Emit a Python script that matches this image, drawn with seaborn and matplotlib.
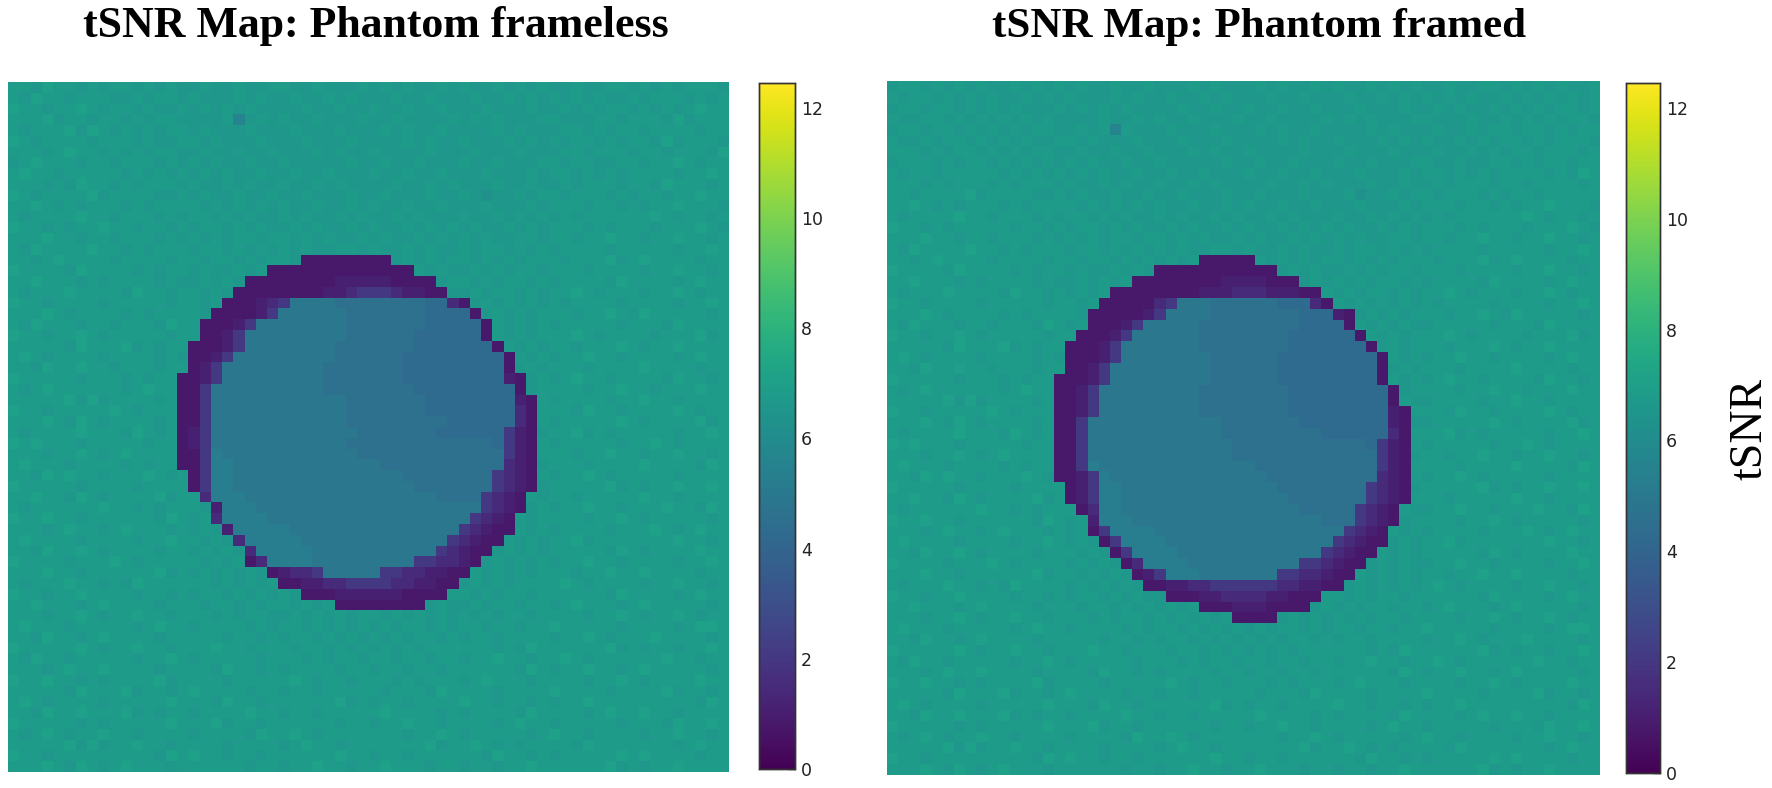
import numpy as np
import seaborn as sns
import matplotlib.pyplot as plt

titles = ['tSNR Map: Phantom frameless', 'tSNR Map: Phantom framed']
cbar_label = 'tSNR'
cbar_ticks = [0, 2, 4, 6, 8, 10, 12]
vmin, vmax = 0, 12.45

# tSNR, one letter or digit per cell
levels = {'a': 0.8, 'b': 1.1, 'c': 1.5, 'd': 2.0,
          'e': 4.3, 'f': 4.6, 'g': 4.95, 'h': 5.25,
          '5': 5.6, '6': 6.25, '7': 6.65, '8': 6.85, '9': 7.05}

frameless = [
    "88798878 78878787 78778778 87787778 78787787 87787878 77877887 87878887",
    "87988788 87787887 87778787 78778787 77877877 78778787 87878778 78887878",
    "98878898 78878778 78787877 77877877 87787787 77877787 78787887 87878988",
    "88897887 88787887 77785787 87787778 77877778 78787778 87778878 88797888",
    "87888979 87878788 78777877 78777877 78787787 77787877 78878788 78888788",
    "98788887 88878778 87877787 77877787 77787877 87778787 87887878 87978887",
    "88878988 78787887 78778778 77787877 87777877 78777877 78878887 88788879",
    "78988878 87888787 87877877 87777787 78778777 87787778 87887788 78898788",
    "89887888 88787878 78787787 78778777 87787787 77877787 88787878 88878898",
    "88878798 87878887 87787877 87787877 77877878 77787787 78788878 87988878",
    "98788889 78888778 78778778 77877787 78777877 87677878 87888787 88788988",
    "88987878 88787888 87878787 87787787 87787787 77877787 88878878 78898887",
    "87888898 87888787 88787877 87877878 77878777 87787878 78788888 89878878",
    "98878788 98878878 78878787 78787787 87787878 78778787 88878788 87888987",
    "88898878 87888787 87878878 87878778 78778787 87877887 88788988 78898878",
    "87988889 88787888 78878787 87877887 87787877 87887878 78888788 88878898",
    "88789888 87888878 87887878 87aaaaaa aa787878 87878788 87888978 98888788",
    "98888798 88878788 7877878a aaaaaaaa aaaa8787 78787887 88878888 78898878",
    "88988878 78888787 78787aaa aaaaabbb bbaaaa78 87878878 78888798 88878988",
    "87888988 88798878 8787aaaa aaaabbcd ddcbbaa7 78788787 88987888 78898788",
    "98878888 78888878 878aaabc dggggfff fffffeec a7878787 87888878 88878898",
    "88898788 88787888 87aaaabd ggggggff fffffeee ea787878 88788987 98888878",
    "87988878 87888798 8aaabdgg ggggggff fffffeee eea87878 78888878 88798888",
    "98878898 78888878 8aabdggg ggggggff ffffeeee eea87878 88987888 87888978",
    "88888798 88978788 aaabdggg gggggfff ffffeeee eeea8787 88788898 78898888",
    "89878888 78888787 aabdgggg gggggfff fffeeeee eeeea878 78898878 88878988",
    "88798898 87888788 abdggggg ggggffff fffeeeee eeeea787 88878888 98888788",
    "98888878 8878788a abdggggg ggggffff fffeeeee eeeeba78 78988788 88798878",
    "87898888 8878988a adgggggg ggggffff ffffeeee eeeeea78 88878898 87888988",
    "88888979 7888878a adgggggg ggggggff fffffeee eeeeeba8 78888788 98878888",
    "98878888 8987888a adgggggg ggggggff fffffeee eeeeeca8 88798878 88898788",
    "88898798 7888878a adgggggg ggggggff fffffffe eeeeeca8 78888898 78888978",
    "87888898 8879878a bdgggggg gggggggf ffffffee eeeedba7 88978788 88878898",
    "98988878 8888788a bdgggggg ggggggff ffffffff fffedba8 78888878 89878888",
    "88878898 7898888a adhggggg gggggggf ffffffff ffffdba8 88788988 78898878",
    "89888788 8878788a adhhgggg gggggggg gfffffff ffffcba7 88878888 98888798",
    "88798988 78889878 adhhgggg gggggggg gggfffff fffdcba8 78898788 88878888",
    "98888878 88878888 adhhgggg gggggggg ggggffff fffdcba7 88888978 78898898",
    "88988798 78888978 8chhhggg gggggggg ggggggff ffdcba87 88788888 98878888",
    "87888888 98878788 87bhhhgg gggggggg gggggggg ggdcba78 78898878 88988798",
    "98898878 88888798 78chhhhg gggggggg gggggggg gdcba878 88878898 78888878",
    "88878988 78988878 787bhhhh hggggggg gggggggg dcbaa878 78888788 89878988",
    "89888878 88878898 8787chhh hhgggggg gggggggd cbaa8787 88978888 88898878",
    "88798898 78888788 78787chh hhhggggg ggggggdc baa78787 88888798 78888988",
    "98888788 89878888 87878ach hhhggggg ggggddcc ba787878 78898878 88878898",
    "88898878 88888978 7878787a bccdgggg gddccbba a8787878 88788988 98888788",
    "87888988 78798888 88787878 aabbccdd ddccbbaa 78787888 89878888 78898878",
    "98878898 88878878 78878787 87aaabbb bbbaaaa8 87878878 88888798 88878988",
    "88988878 98888788 87887878 87878aaa aaaaa787 78788788 78988878 98888878",
    "88878898 78898878 88787887 78787878 87878787 87878878 88878898 78898788",
    "89888788 88878988 78888787 88787878 78788787 88788788 98888878 88878998",
    "88798878 98888788 88878878 78878787 87878878 78878888 78898788 89888878",
    "98888898 78898878 88988788 87887878 78787888 88878798 88888978 78878898",
    "87988788 88878898 78888878 88787887 88788788 78898878 89878888 88988788",
    "88878988 98888788 88798878 78888788 78878878 88888798 78898878 98888878",
    "98898878 78888978 88878888 89878878 88787888 78988878 88878898 78888988",
    "88888798 88978878 98888788 78878888 87888798 88878888 98888788 88978878",
    "89878888 78888898 88798878 88888978 78878888 98878878 78898888 88888798",
    "88798898 88978788 78888988 78878888 89888878 78888798 88878988 98878888",
    "98888878 78888898 88978878 88888788 78898878 88878988 78888878 88798898",
    "87898788 98878888 78888798 89878888 88878898 78888878 98878888 78898878",
    "88888979 78898878 88878888 78988788 88888978 89878788 88798888 88878988",
    "98878888 88888798 98878878 88888988 78878888 88798878 78888898 98888788",
    "88898798 78988878 88888788 78898878 89888788 78878898 88888978 78898888",
]

framed = [
    "78878787 87787878 78778778 77787877 78787787 87787878 77877887 87878778",
    "87887878 78778787 87778787 78778787 77877877 78778787 87878778 78787878",
    "78878878 78787778 78787877 77877877 87787787 77877787 78787787 87878878",
    "87788787 87878787 77787787 87787778 77877778 78787778 87778778 78787887",
    "78878878 78787887 78785877 78777877 78787787 77787877 78778788 78878788",
    "87787887 87878778 87877787 77877787 77787877 87778787 87787878 87878887",
    "88878788 78787887 78778778 77787877 87777877 78777877 78778787 88788878",
    "78887878 87878787 87877877 87777787 78778777 87787778 87787788 78788788",
    "87887888 88787878 78787787 78778777 87787787 77877787 88787878 88878798",
    "88878788 87878887 87787877 87787877 77877878 77787787 78788878 87888878",
    "88788889 78888778 78778778 77877787 78777877 78677878 87888787 88788888",
    "88987878 88787888 87878787 87787787 87787787 77877787 88878878 78898887",
    "87888898 87888787 88787877 87877878 77878777 87787878 78788888 89878878",
    "98878788 88878878 78878787 78787787 87787878 78778787 88878788 87888987",
    "88898878 87888787 87878878 87878778 78778787 87877887 88788988 78898878",
    "87988889 88787888 78878787 87877887 87787877 87887878 78888788 88878898",
    "88789888 87888878 87887878 7878aaaa a8787878 87878788 87888978 98888788",
    "98888798 88878788 78778787 aaaaaaaa aaa78787 78787887 88878888 78898878",
    "88988878 78888787 787878aa aaaaaabb bbaaa787 87878878 78888798 88878988",
    "87888988 88798878 7878aaaa aaaabbbc ccbbbaa8 78788787 88987888 78898788",
    "98878888 78888878 878aaaaa cdgggfff fffeeeca 87878787 87888878 88878898",
    "88898788 88787888 87aaaaab dggggfff fffffeee ba787878 88788987 98888878",
    "87988878 87888798 78aaabdg ggggffff fffffeee ea878787 78888878 88798888",
    "98878898 78888878 8aaabdgg ggggffff ffffeeee eea87878 88987888 87888978",
    "88888798 88978788 aaabdggg ggggffff ffffeeee eeea7878 88788898 78898888",
    "89878888 78888787 aaabdggg gggggfff fffeeeee eeeea878 78898878 88878988",
    "88798898 87888788 aabdgggg gggggfff fffeeeee eeeea787 88878888 98888788",
    "98888878 8878788a aabdgggg gggggfff fffeeeee eeeea878 78988788 88798878",
    "87898888 8878988a abdggggg ggggffff ffffeeee eeeeea78 88878898 87888988",
    "88888979 7888878a abdggggg ggggffff ffffeeee eeeeea87 78888788 98878888",
    "98878888 8987888a abdggggg ggggffff ffffeeee eeeeeba8 88798878 88898788",
    "88898798 7888878a adgggggg ggggggff fffffeee eeeeeba7 78888898 78888978",
    "87888898 8879878a adgggggg ggggggff fffffffe eeeeeca8 88978788 88878898",
    "98988878 8888788a adgggggg gggggggf ffffffff fffedba8 78888878 89878888",
    "88878898 7898888a adgggggg gggggggf ffffffff ffffdba7 88788988 78898878",
    "89888788 8878788a adhggggg gggggggg gfffffff ffffdba8 88878888 98888798",
    "88798988 7888987a abdhgggg gggggggg ggffffff ffffcba8 78898788 88878888",
    "98888878 88878888 abdhhggg gggggggg gggfffff fffdcba7 88888978 78898898",
    "88988798 78888978 abdhhggg gggggggg ggggffff fffdcba8 88788888 98878888",
    "87888888 98878788 8achhggg gggggggg gggggfff ffdcba87 78898878 88988798",
    "98898878 88888798 78bhhhgg gggggggg gggggggf ffdcba78 88878898 78888878",
    "88878988 78988878 78adhhhh gggggggg gggggggg gdcba878 78888788 89878988",
    "89888878 88878898 787adhhh hggggggg gggggggg dcbaa787 88978888 88898878",
    "88798898 78888788 8787adhh hhgggggg gggggggd cbaa8787 88888798 78888988",
    "98888788 89878888 78787ach hhhggggg gggggddc baa78787 78898878 88878898",
    "88898878 88888978 878787ab dhhhgggg gggddccb aa878787 88788988 98888788",
    "87888988 78798888 7878787a abbccddd dddccbba a7878787 89878888 78898878",
    "98878898 88878878 78878787 7aaabbcc ccbbaaa8 87878878 88888798 88878988",
    "88988878 98888788 87887878 7878aaab bbaaaa78 78788788 78988878 98888878",
    "88878898 78898878 88787887 8787878a aaa78787 87878878 88878898 78898788",
    "89888788 88878988 78888787 88787878 78788787 88788788 98888878 88878998",
    "88798878 98888788 88878878 78878787 87878878 78878888 78898788 89888878",
    "98888898 78898878 88988788 87887878 78787888 88878798 88888978 78878898",
    "87988788 88878898 78888878 88787887 88788788 78898878 89878888 88988788",
    "88878988 98888788 88798878 78888788 78878878 88888798 78898878 98888878",
    "98898878 78888978 88878888 89878878 88787888 78988878 88878898 78888988",
    "88888798 88978878 98888788 78878888 87888798 88878888 98888788 88978878",
    "89878888 78888898 88798878 88888978 78878888 98878878 78898888 88888798",
    "88798898 88978788 78888988 78878888 89888878 78888798 88878988 98878888",
    "98888878 78888898 88978878 88888788 78898878 88878988 78888878 88798898",
    "87898788 98878888 78888798 89878888 88878898 78888878 98878888 78898878",
    "88888979 78898878 88878888 78988788 88888978 89878788 88798888 88878988",
    "98878888 88888798 98878878 88888988 78878888 88798878 78888898 98888788",
    "88898798 78988878 88888788 78898878 89888788 78878898 88888978 78898888",
]


def to_grid(rows):
    return np.array([[levels[ch] for ch in row.replace(' ', '')] for row in rows])


def px_axes(fig, x0, y0, x1, y1):
    # axes box from pixel edges, y measured from the top of the picture
    w, h = fig.get_size_inches() * fig.dpi
    return fig.add_axes([x0 / w, 1 - y1 / h, (x1 - x0) / w, (y1 - y0) / h])


sns.set_style('white')
plt.rcParams['font.family'] = ['DejaVu Sans']

fig = plt.figure(figsize=(17.72, 7.88), dpi=100)

panels = [(frameless, (8, 82, 729, 772), (759, 83, 795, 769), 375.5),
          (framed, (887, 81, 1600, 775), (1626, 83, 1660, 773), 1258.5)]

for i, (rows, box, cbox, title_x) in enumerate(panels):
    ax = px_axes(fig, *box)
    cax = px_axes(fig, *cbox)
    sns.heatmap(to_grid(rows), ax=ax, cbar_ax=cax, cmap='viridis', vmin=vmin, vmax=vmax,
                xticklabels=False, yticklabels=False, linewidths=0, rasterized=True)
    cax.set_yticks(cbar_ticks)
    cax.tick_params(axis='y', direction='in', length=5, width=1, pad=4.3, labelsize=12.5,
                    labelcolor='#222222', color='#222222', right=True)
    for spine in cax.spines.values():
        spine.set_visible(True)
        spine.set_linewidth(1)
        spine.set_edgecolor('#333333')
    fig.text(title_x / 1772, 1 - 37 / 788, titles[i], ha='center', va='baseline',
             family='Liberation Serif', weight='bold',
             fontsize=31.6 if i == 0 else 31.0, color='black')

fig.text(1750 / 1772, 1 - 429 / 788, cbar_label, rotation=90, ha='center', va='center',
         family='Liberation Serif', fontsize=33, color='black')

fig.savefig('out.png', dpi=100, facecolor='white')
